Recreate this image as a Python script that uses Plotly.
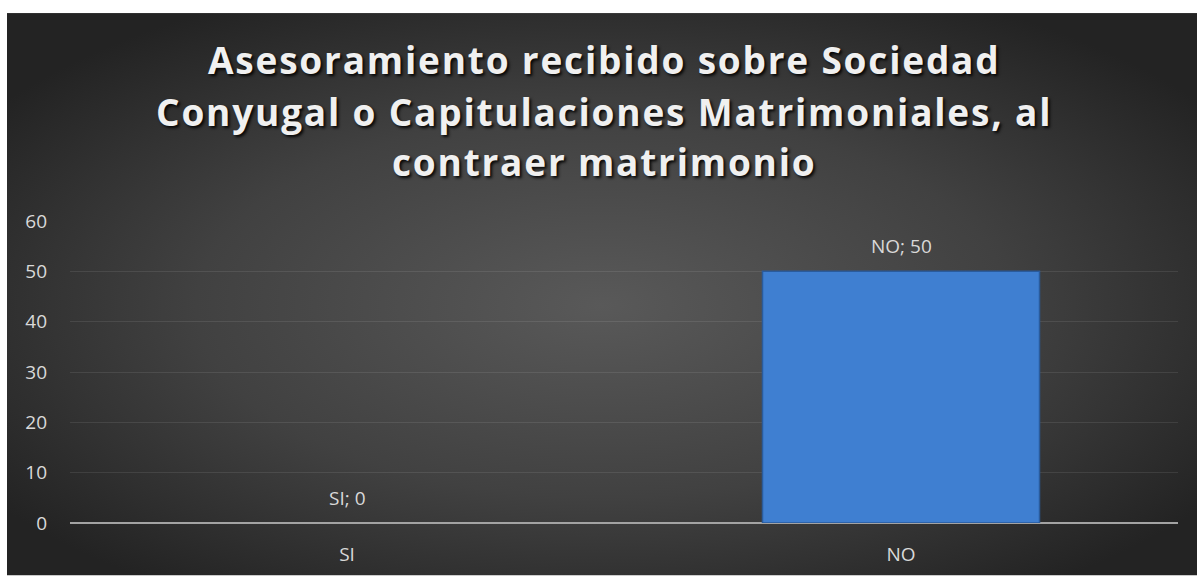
import base64
import plotly.graph_objects as go

categories = ["SI", "NO"]
values = [0, 50]
title_lines = [
    "Asesoramiento recibido sobre Sociedad",
    "Conyugal o Capitulaciones Matrimoniales, al",
    "contraer matrimonio",
]
y_ticks = [0, 10, 20, 30, 40, 50, 60]

W, H = 1197, 579
ML, MR, MT, MB = 70, 19, 221, 53
PW, PH = W - ML - MR, H - MT - MB

svg = (
    '<svg xmlns="http://www.w3.org/2000/svg" width="1190" height="568" viewBox="0 0 1190 568" preserveAspectRatio="none">'
    '<defs><radialGradient id="g" cx="50%" cy="52%" r="62%">'
    '<stop offset="0" stop-color="#595959"/>'
    '<stop offset="0.55" stop-color="#414141"/>'
    '<stop offset="1" stop-color="#232323"/>'
    '</radialGradient></defs>'
    '<rect width="1190" height="568" fill="url(#g)"/></svg>'
)
src = "data:image/svg+xml;base64," + base64.b64encode(svg.encode()).decode()

def px_x(px):
    return (px - ML) / PW

def px_y(py):
    return (H - MB - py) / PH

fig = go.Figure()
fig.add_trace(go.Bar(
    x=categories, y=values,
    marker=dict(color="#3f7fd1",
                line=dict(color="#2a5b9c", width=[0 if v == 0 else 1.5 for v in values])),
    hoverinfo="skip",
))

annotations = []
for c, v in zip(categories, values):
    annotations.append(dict(
        x=c, y=v, xref="x", yref="y", text=f"{c}; {v}", showarrow=False,
        yanchor="bottom", yshift=10,
        font=dict(family="Open Sans", size=19, color="#d9d9d9"),
    ))

title_centers = [58, 110, 161]
for line, cy in zip(title_lines, title_centers):
    annotations.append(dict(
        x=px_x(604), y=px_y(cy), xref="paper", yref="paper",
        text=f'<span style="letter-spacing:1.8px">{line}</span>',
        showarrow=False, xanchor="center", yanchor="middle",
        font=dict(family="Open Sans", size=37, color="#f0f0f0", weight="bold",
                  shadow="2px 2px 3px rgba(0,0,0,0.9)"),
    ))

fig.update_layout(
    width=W, height=H,
    margin=dict(l=ML, r=MR, t=MT, b=MB, pad=0),
    paper_bgcolor="white",
    plot_bgcolor="rgba(0,0,0,0)",
    bargap=0.5,
    showlegend=False,
    annotations=annotations,
    images=[dict(
        source=src, xref="paper", yref="paper",
        x=px_x(7), y=px_y(11), sizex=(W - 7) / PW, sizey=(H - 11) / PH,
        xanchor="left", yanchor="top", sizing="stretch", layer="below",
    )],
    xaxis=dict(
        showgrid=False, showline=False, zeroline=False,
        tickfont=dict(family="Open Sans", size=19, color="#d9d9d9"),
        ticklabelstandoff=18,
    ),
    yaxis=dict(
        range=[0, 60], tickvals=y_ticks,
        showgrid=True, gridcolor="rgba(255,255,255,0.09)", gridwidth=1,
        zeroline=True, zerolinecolor="#a3a3a3", zerolinewidth=2,
        showline=False,
        tickfont=dict(family="Open Sans", size=19, color="#d9d9d9"),
        ticklabelstandoff=22,
    ),
)

fig.write_html("out.html")
